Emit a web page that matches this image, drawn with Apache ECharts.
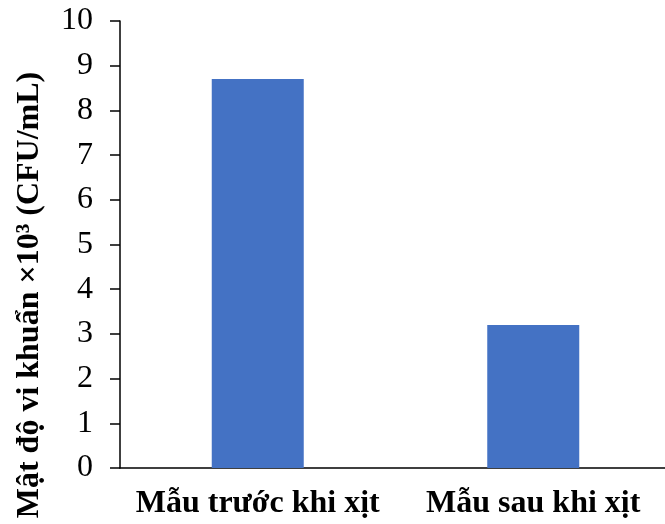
<!DOCTYPE html>
<html>
<head>
<meta charset="utf-8">
<script src="https://cdn.jsdelivr.net/npm/echarts@6/dist/echarts.min.js"></script>
<style>
  html, body { margin: 0; padding: 0; background: #fff; }
  #chart { width: 665px; height: 524px; }
</style>
</head>
<body>
<div id="chart"></div>
<script>
// categories and values
const categories = ['Mẫu trước khi xịt', 'Mẫu sau khi xịt']
const density = [8.7, 3.2]
const yTitle = 'Mật độ vi khuẩn ×10³ (CFU/mL)'

const myChart = echarts.init(document.getElementById('chart'))

const options = {
    animation: false,
    grid: {
        top: 21,
        left: 120,
        width: 551,
        bottom: 56,
        outerBoundsMode: 'none'
    },
    xAxis: {
        type: 'category',
        data: categories,
        axisLine: { lineStyle: { color: '#000', width: 1.5 } },
        axisTick: { alignWithLabel: true, length: 7, lineStyle: { color: '#000', width: 1.5 } },
        axisLabel: {
            interval: 0,
            color: '#000',
            fontFamily: 'Liberation Serif',
            fontWeight: 'bold',
            fontSize: 32,
            margin: 20
        }
    },
    yAxis: {
        type: 'value',
        min: 0,
        max: 10,
        interval: 1,
        splitLine: { show: false },
        axisLine: { show: true, lineStyle: { color: '#000', width: 1.5 } },
        axisTick: { show: true, length: 10, lineStyle: { color: '#000', width: 1.5 } },
        axisLabel: {
            color: '#000',
            fontFamily: 'Liberation Serif',
            fontSize: 32,
            margin: 27
        }
    },
    // y轴标题
    graphic: [{
        type: 'text',
        x: 30,
        y: 295,
        rotation: Math.PI / 2,
        style: {
            text: yTitle,
            fill: '#000',
            font: 'bold 32px "Liberation Serif"',
            align: 'center',
            verticalAlign: 'middle'
        }
    }],
    series: [{
        type: 'bar',
        data: density,
        barWidth: 92,
        itemStyle: { color: '#4472C4' }
    }]
}

myChart.setOption(options)
</script>
</body>
</html>
